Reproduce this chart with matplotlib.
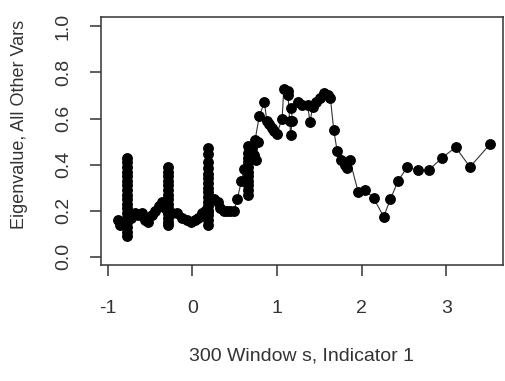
import numpy as np
import matplotlib.pyplot as plt

plt.rcParams['font.family'] = ['Liberation Sans', 'DejaVu Sans']

# points, in drawing order
seg1_x = [-0.88, -0.85, -0.82]
seg1_y = [0.16, 0.14, 0.15]

bar1_x = -0.77
bar1_y = [0.43, 0.41, 0.39, 0.37, 0.35, 0.33, 0.31, 0.29, 0.27, 0.25, 0.23, 0.21,
          0.19, 0.17, 0.15, 0.13, 0.11, 0.09, 0.16]

seg2_x = [-0.72, -0.68, -0.64, -0.60, -0.56, -0.52, -0.48, -0.44, -0.40, -0.36, -0.32]
seg2_y = [0.17, 0.19, 0.18, 0.19, 0.16, 0.15, 0.18, 0.20, 0.22, 0.24, 0.21]

bar2_x = -0.29
bar2_y = [0.39, 0.37, 0.35, 0.33, 0.31, 0.29, 0.27, 0.25, 0.23, 0.21, 0.19, 0.17,
          0.15, 0.14, 0.19]

seg3_x = [-0.24, -0.18, -0.12, -0.06, -0.02, 0.03, 0.07, 0.11, 0.15]
seg3_y = [0.19, 0.19, 0.17, 0.16, 0.15, 0.16, 0.17, 0.19, 0.20]

bar3_x = 0.19
bar3_y = [0.47, 0.445, 0.41, 0.385, 0.36, 0.34, 0.32, 0.30, 0.28, 0.26, 0.24, 0.22,
          0.20, 0.18, 0.16, 0.14, 0.20]

seg4_x = [0.25, 0.30, 0.33, 0.37, 0.41, 0.45, 0.49, 0.53, 0.58, 0.61]
seg4_y = [0.25, 0.24, 0.21, 0.20, 0.20, 0.20, 0.20, 0.25, 0.33, 0.38]

bar4_x = 0.66
bar4_y = [0.27, 0.29, 0.31, 0.33, 0.35, 0.37, 0.39, 0.41, 0.43, 0.45, 0.48]

seg5_x = [0.70, 0.73, 0.75, 0.77, 0.74, 0.79, 0.85, 0.88, 0.91, 0.94, 0.97, 1.00,
          1.06, 1.08, 1.13, 1.13, 1.15, 1.16, 1.18, 1.17, 1.25, 1.30, 1.36, 1.39,
          1.42, 1.46, 1.51, 1.56, 1.60, 1.63, 1.67, 1.71, 1.76, 1.80, 1.83, 1.86,
          1.96, 2.04, 2.14, 2.26, 2.34, 2.43, 2.54, 2.66, 2.79, 2.95, 3.11, 3.28, 3.52]
seg5_y = [0.47, 0.44, 0.42, 0.50, 0.505, 0.61, 0.67, 0.59, 0.575, 0.56, 0.545, 0.535,
          0.60, 0.73, 0.72, 0.70, 0.59, 0.53, 0.59, 0.645, 0.67, 0.66, 0.66, 0.585,
          0.65, 0.67, 0.69, 0.71, 0.70, 0.69, 0.55, 0.46, 0.42, 0.40, 0.385, 0.42,
          0.28, 0.29, 0.255, 0.175, 0.25, 0.33, 0.39, 0.375, 0.375, 0.43, 0.475, 0.39, 0.49]

x = np.concatenate([seg1_x, [bar1_x] * len(bar1_y), seg2_x, [bar2_x] * len(bar2_y),
                    seg3_x, [bar3_x] * len(bar3_y), seg4_x, [bar4_x] * len(bar4_y), seg5_x])
y = np.concatenate([seg1_y, bar1_y, seg2_y, bar2_y, seg3_y, bar3_y, seg4_y, bar4_y, seg5_y])

x_ticks = [-1, 0, 1, 2, 3]
y_ticks = [0.0, 0.2, 0.4, 0.6, 0.8, 1.0]

fig = plt.figure(figsize=(5.06, 3.81), dpi=100)
ax = fig.add_axes([101 / 506, 1 - 265 / 381, 402 / 506, 248 / 381])

ax.plot(x, y, color="#333333", linewidth=0.8, zorder=1)
ax.plot(x, y, "o", color="black", markersize=6.8, zorder=2)

ax.set_xlim(-1.08, 3.67)
ax.set_ylim(-0.035, 1.04)
ax.set_xticks(x_ticks)
ax.set_xticklabels([str(t) for t in x_ticks])
ax.set_yticks(y_ticks)
ax.set_yticklabels(["%.1f" % t for t in y_ticks], rotation=90, va="center")

for s in ax.spines.values():
    s.set_linewidth(1.1)
    s.set_color("#333333")
ax.tick_params(direction="out", length=8, width=1.1, color="#333333",
               labelsize=14, labelcolor="#333333")
ax.tick_params(axis="x", pad=17)
ax.tick_params(axis="y", pad=13)

fig.text(302 / 506, 1 - 356 / 381, "300 Window s, Indicator 1", ha="center", va="center",
         fontsize=14, color="#333333")
fig.text(20 / 506, 1 - 124 / 381, "Eigenvalue, All Other Vars", ha="center", va="center",
         rotation=90, fontsize=13, color="#333333")

fig.savefig("out.png", dpi=100)
